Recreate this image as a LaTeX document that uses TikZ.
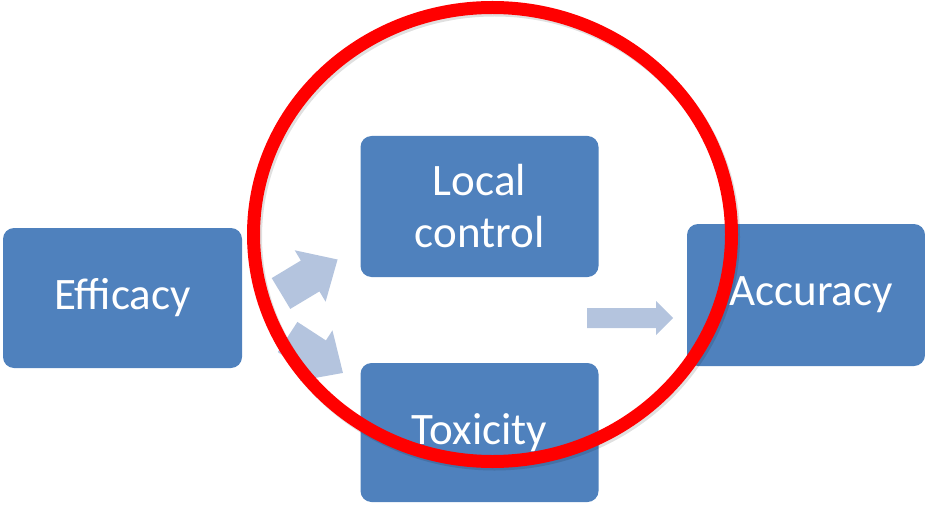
\documentclass[tikz,border=0pt]{standalone}
\usepackage{fontspec}
\setmainfont{Carlito}
\definecolor{boxblue}{RGB}{79,129,189}
\definecolor{arrowblue}{RGB}{180,196,222}
\definecolor{ringred}{RGB}{255,0,0}
\tikzset{
  box/.style={draw=none, fill=boxblue, rounded corners=11pt, text=white,
    font=\fontsize{45}{52}\selectfont, align=center, inner sep=0pt},
  blockarrow/.style={fill=arrowblue, draw=none},
  ring/.style={draw=ringred, line width=13pt},
}
\newcommand{\blockarr}[4]{% #1 shaft half-width, #2 head half-width, #3 shaft length, #4 total length
  \fill[blockarrow] (0,-#1) -- (#3,-#1) -- (#3,-#2) -- (#4,0) -- (#3,#2) -- (#3,#1) -- (0,#1) -- cycle;}
\begin{document}
\begin{tikzpicture}[x=1pt,y=-1pt]
\useasboundingbox (0,0) rectangle (925,505);
% boxes
\node[box, minimum width=239pt, minimum height=140pt] (eff) at (122.5,298) {Efficacy};
\node[box, minimum width=238pt, minimum height=141pt] (loc) at (479.5,206.5) {Local\\control};
\node[box, minimum width=238pt, minimum height=139pt] (tox) at (479.5,432.5) {Toxicity};
\node[box, minimum width=238pt, minimum height=142pt] (acc) at (806,295) {\hspace*{10pt}Accuracy};
% block arrows
\begin{scope}[shift={(281,293.5)}, rotate=31]
  \blockarr{18}{30}{34}{66}
\end{scope}
\begin{scope}[shift={(287.6,337)}, rotate=-33]
  \blockarr{18}{30}{34}{66}
\end{scope}
\begin{scope}[shift={(587,318)}]
  \blockarr{10}{17}{69}{86}
\end{scope}
% red ring with soft shadow
\draw[line width=13pt, black, opacity=0.12] (494.5,237) ellipse [x radius=239, y radius=227];
\draw[ring] (492.5,234.5) ellipse [x radius=239, y radius=227];
\end{tikzpicture}
\end{document}
